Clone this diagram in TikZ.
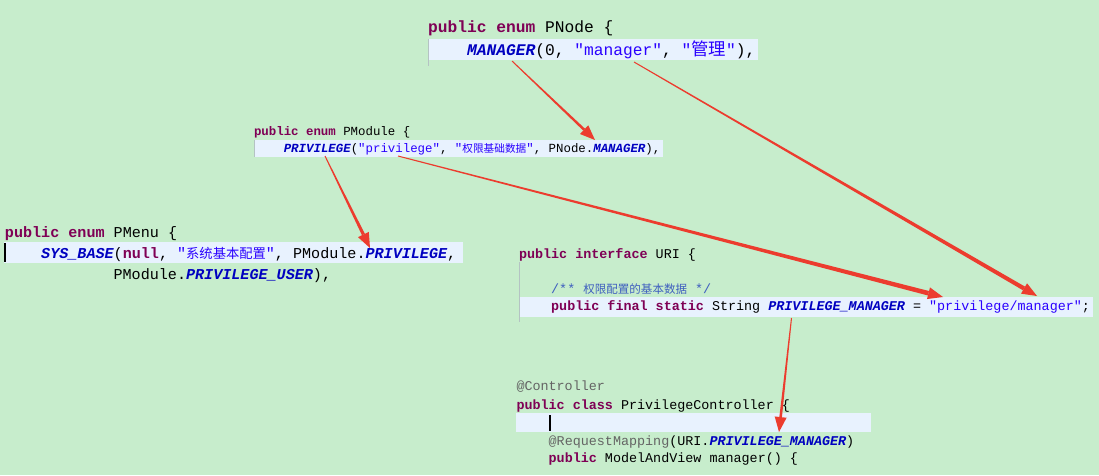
\documentclass[tikz,border=0pt]{standalone}
\usepackage{fontspec}
\setmonofont{Liberation Mono}
\newfontfamily\cjkA[Scale=1.07]{Noto Sans CJK SC}
\newfontfamily\cjkB[Scale=0.86]{Noto Sans CJK SC}
\newfontfamily\cjkC[Scale=0.88]{Noto Sans CJK SC}
\usetikzlibrary{calc}
\definecolor{bgc}{RGB}{199,237,204}
\definecolor{hlc}{RGB}{232,242,254}
\definecolor{kwc}{RGB}{127,0,85}
\definecolor{cstc}{RGB}{0,0,192}
\definecolor{strc}{RGB}{42,0,255}
\definecolor{annc}{RGB}{100,100,100}
\definecolor{docc}{RGB}{63,95,191}
\definecolor{arrc}{RGB}{236,60,46}
\definecolor{margc}{RGB}{180,195,195}
\newcommand\jkw[1]{{\color{kwc}\bfseries #1}}
\newcommand\jcst[1]{{\color{cstc}\bfseries\itshape #1}}
\newcommand\jstr[1]{{\color{strc}#1}}
\newcommand\jann[1]{{\color{annc}#1}}
\newcommand\jdoc[1]{{\color{docc}#1}}
\newcommand\taperarrow[3]{%
  \coordinate (hb) at ($(#2)!15pt!(#1)$);
  \fill[arrc] ($(#1)!0.5pt!90:(#2)$) -- ($(hb)!#3!-90:(#1)$) -- ($(hb)!#3!90:(#1)$) -- ($(#1)!0.5pt!-90:(#2)$) -- cycle;
  \fill[arrc] (#2) -- ($(hb)!6pt!90:(#1)$) -- ($(hb)!6pt!-90:(#1)$) -- cycle;
}
\begin{document}
\begin{tikzpicture}[x=1pt,y=-1pt,
  code/.style={anchor=base west,inner sep=0pt,outer sep=0pt},
  fA/.style={code,font=\ttfamily\fontsize{16.25}{19}\selectfont},
  fB/.style={code,font=\ttfamily\fontsize{12.4}{15}\selectfont},
  fC/.style={code,font=\ttfamily\fontsize{15.1}{18}\selectfont},
  fD/.style={code,font=\ttfamily\fontsize{13.4}{16}\selectfont},
  hl/.style={fill=hlc},
  marg/.style={draw=margc,line width=0.8pt}]
\fill[bgc] (0,0) rectangle (1099,475);
\useasboundingbox (0,0) rectangle (1099,475);
% PNode
\fill[hl] (428,39) rectangle (758,60);
\draw[marg] (428.5,39) -- (428.5,66);
\node[fA] (pn1) at (428,32) {\jkw{public} \jkw{enum} PNode \{};
\node[fA] (pn2) at (467,55) {\jcst{MANAGER}(0, \jstr{"manager"}, \jstr{"{\cjkA 管理}"}),};
% PModule
\fill[hl] (254,140) rectangle (663,157);
\draw[marg] (254.5,140) -- (254.5,157);
\node[fB] (pm1) at (254,135.5) {\jkw{public} \jkw{enum} PModule \{};
\node[fB] (pm2) at (283.8,152.3) {\jcst{PRIVILEGE}(\jstr{"privilege"}, \jstr{"{\cjkB 权限基础数据}"}, PNode.\jcst{MANAGER}),};
% PMenu
\fill[hl] (4,242) rectangle (463,263);
\fill[black] (4,243) rectangle (6,262);
\node[fC] (pu1) at (5,237.7) {\jkw{public} \jkw{enum} PMenu \{};
\node[fC] (pu2) at (41.2,258.3) {\jcst{SYS\_BASE}(\jkw{null}, \jstr{"{\cjkC 系统基本配置}"}, PModule.\jcst{PRIVILEGE},};
\node[fC] (pu3) at (113.6,279) {PModule.\jcst{PRIVILEGE\_USER}),};
% URI
\fill[hl] (519,297) rectangle (1093,317);
\draw[marg] (519.5,262) -- (519.5,322);
\node[fD] (ur1) at (519,258) {\jkw{public} \jkw{interface} URI \{};
\node[fD] (ur3) at (551.2,293) {\jdoc{/** {\cjkB 权限配置的基本数据} */}};
\node[fD] (ur4) at (551.2,310) {\jkw{public} \jkw{final} \jkw{static} String \jcst{PRIVILEGE\_MANAGER} = \jstr{"privilege/manager"};};
% Controller
\fill[hl] (516,413.3) rectangle (871,431.7);
\fill[black] (548.5,415) rectangle (550.5,431);
\node[fD] (ct1) at (516.5,390.7) {\jann{@Controller}};
\node[fD] (ct2) at (516.5,409) {\jkw{public} \jkw{class} PrivilegeController \{};
\node[fD] (ct4) at (548.7,445) {\jann{@RequestMapping}(URI.\jcst{PRIVILEGE\_MANAGER})};
\node[fD] (ct5) at (548.7,462.5) {\jkw{public} ModelAndView manager() \{};
% arrows
\coordinate (a1s) at (512,61);   \coordinate (a1t) at (595,140);
\coordinate (a2s) at (634,62);   \coordinate (a2t) at (1037,296);
\coordinate (a3s) at (325,156);  \coordinate (a3t) at (370,248);
\coordinate (a4s) at (398,156);  \coordinate (a4t) at (943,297);
\coordinate (a5s) at (791.5,318); \coordinate (a5t) at (779,432);
\taperarrow{a1s}{a1t}{1.3pt}
\taperarrow{a2s}{a2t}{2.1pt}
\taperarrow{a3s}{a3t}{1.6pt}
\taperarrow{a4s}{a4t}{2.3pt}
\taperarrow{a5s}{a5t}{1.3pt}
\end{tikzpicture}
\end{document}
